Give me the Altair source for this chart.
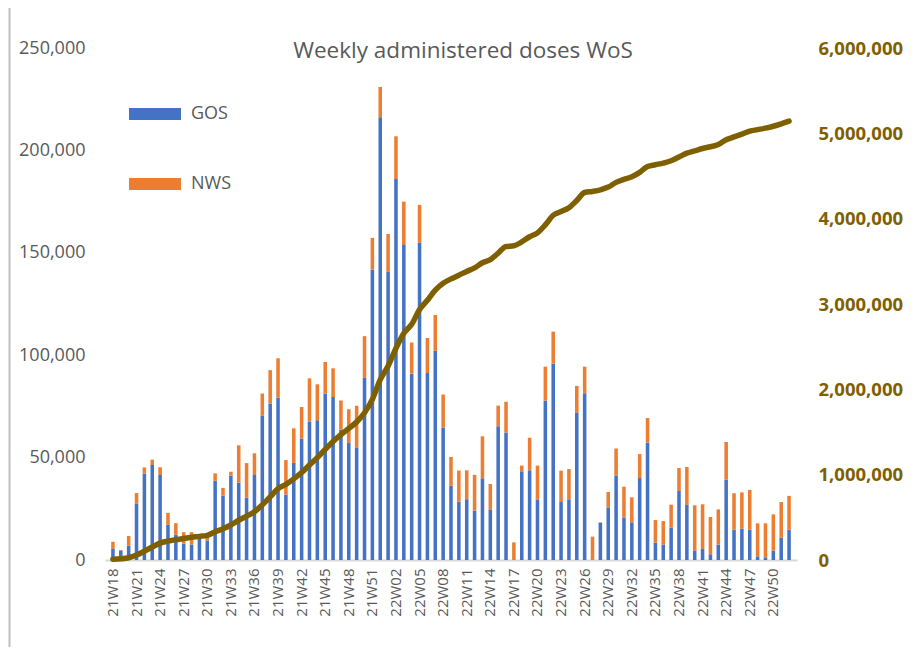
import altair as alt
import pandas as pd

FONT = "Open Sans"

weeks = [f"21W{w}" for w in range(18, 53)] + [f"22W{w:02d}" for w in range(1, 53)]

# thousands of doses
gos = [5.4, 4.7, 7.0, 27.4, 42.2, 46.4, 41.5, 17.2, 12.3, 8.0,
       7.5, 10.5, 9.6, 38.7, 31.4, 41.2, 37.8, 30.5, 41.5, 70.5,
       76.4, 79.3, 31.9, 47.4, 59.3, 67.6, 68.2, 81.2, 79.6, 63.6,
       57.1, 55.0, 88.9, 141.9, 216.2, 140.7, 186.0, 153.8, 91.0, 155.0,
       91.3, 102.1, 64.6, 36.3, 28.5, 29.7, 24.1, 39.9, 24.7, 65.3,
       62.2, 0.0, 43.3, 43.8, 29.6, 77.8, 95.9, 28.3, 29.3, 71.8,
       81.4, 0.0, 18.1, 25.7, 41.2, 20.8, 18.4, 40.0, 57.3, 8.5,
       7.5, 15.8, 33.7, 26.9, 4.7, 5.4, 2.8, 7.5, 39.2, 14.8,
       15.3, 14.8, 1.8, 1.3, 4.6, 10.9, 14.8]

nws = [3.5, 0.2, 4.7, 5.3, 3.0, 2.6, 3.8, 5.8, 5.7, 5.6,
       6.1, 1.0, 1.9, 3.6, 3.8, 1.9, 18.2, 16.8, 10.6, 10.8,
       16.3, 19.2, 16.9, 16.9, 15.4, 21.1, 17.6, 15.5, 14.0, 14.3,
       16.5, 20.3, 20.4, 15.4, 14.8, 18.5, 20.9, 21.2, 15.2, 18.4,
       17.1, 17.5, 16.2, 14.0, 15.2, 14.1, 17.5, 20.5, 12.4, 10.1,
       15.1, 8.6, 2.8, 15.9, 16.5, 16.6, 15.6, 15.3, 15.1, 13.2,
       13.0, 11.4, 0.3, 7.5, 13.3, 15.0, 12.2, 11.7, 12.0, 11.0,
       11.5, 11.2, 11.2, 18.5, 22.0, 21.8, 18.2, 17.2, 18.4, 17.8,
       17.7, 19.4, 16.1, 16.6, 17.7, 17.4, 16.5]

# cumulative doses, thousands (right axis line)
cumulative = [9, 14, 26, 58, 103, 152, 198, 221, 239, 252,
              266, 277, 289, 331, 366, 410, 466, 513, 565, 646,
              739, 837, 886, 951, 1025, 1114, 1200, 1296, 1390, 1468,
              1542, 1617, 1726, 1883, 2114, 2274, 2481, 2656, 2762, 2935,
              3044, 3163, 3244, 3294, 3338, 3382, 3423, 3484, 3521, 3596,
              3674, 3682, 3728, 3788, 3834, 3928, 4040, 4084, 4128, 4213,
              4307, 4319, 4337, 4370, 4425, 4461, 4491, 4543, 4612, 4632,
              4651, 4678, 4723, 4768, 4795, 4822, 4843, 4868, 4925, 4958,
              4991, 5025, 5043, 5061, 5083, 5111, 5143]

series_names = ["GOS", "NWS"]
series_colors = ["#4472C4", "#ED7D31"]
left_ticks = [0, 50000, 100000, 150000, 200000, 250000]
right_ticks = [0, 1000000, 2000000, 3000000, 4000000, 5000000, 6000000]
tick_weeks = weeks[::3]

rows = []
for i, w in enumerate(weeks):
    rows.append({"week": w, "series": "GOS", "value": gos[i] * 1000, "ord": 0})
    rows.append({"week": w, "series": "NWS", "value": nws[i] * 1000, "ord": 1})
bars_df = pd.DataFrame(rows)
line_df = pd.DataFrame({"week": weeks, "cum": [c * 1000 for c in cumulative]})

x_enc = alt.X(
    "week:N", sort=weeks,
    scale=alt.Scale(paddingInner=0.55, paddingOuter=0.785),
    axis=alt.Axis(title=None, values=tick_weeks, labelAngle=270, labelFontSize=15,
                  labelColor="#595959", labelFont=FONT, ticks=False,
                  domainColor="#D9D9D9", domainWidth=2, labelPadding=8),
)

bars = alt.Chart(bars_df).mark_bar().encode(
    x=x_enc,
    y=alt.Y("value:Q", stack="zero",
            scale=alt.Scale(domain=[0, 250000], nice=False),
            axis=alt.Axis(title=None, values=left_ticks, format=",.0f", grid=False,
                          ticks=False, domain=False, labelFontSize=18,
                          labelColor="#595959", labelFont=FONT, labelPadding=20)),
    color=alt.Color("series:N",
                    scale=alt.Scale(domain=series_names, range=series_colors),
                    legend=alt.Legend(title=None, orient="none", legendX=24, legendY=40,
                                      symbolType="M-1,-0.23H1V0.23H-1Z", symbolSize=2704,
                                      symbolStrokeWidth=0, rowPadding=35, labelFontSize=18,
                                      labelColor="#595959", labelFont=FONT, labelOffset=10,
                                      padding=0, symbolOpacity=1)),
    order=alt.Order("ord:Q"),
)

line = alt.Chart(line_df).mark_line(
    color="#7F6000", strokeWidth=5.5, interpolate="monotone",
    strokeCap="round", strokeJoin="round"
).encode(
    x=x_enc,
    y=alt.Y("cum:Q", scale=alt.Scale(domain=[0, 6000000], nice=False),
            axis=alt.Axis(orient="right", title=None, values=right_ticks, format=",.0f",
                          grid=False, ticks=False, domain=False, labelFontSize=18.5,
                          labelFontWeight="bold", labelColor="#7F6000",
                          labelFont=FONT, labelPadding=21)),
)

border = alt.Chart(pd.DataFrame({"a": [0]})).mark_rule(color="#BFBFBF", strokeWidth=2).encode(
    x=alt.value(-95.5), y=alt.value(-40), y2=alt.value(600)
)

chart = alt.layer(bars, line, border).resolve_scale(y="independent").properties(
    width=692, height=512,
    padding={"left": 97, "top": 40, "right": 109, "bottom": 87},
    autosize=alt.AutoSizeParams(type="none"),
    title=alt.TitleParams("Weekly administered doses WoS", fontSize=22.5, font=FONT,
                          fontWeight="normal", color="#595959", anchor="middle",
                          baseline="alphabetic", offset=-73, dx=12),
    background="white",
).configure_view(stroke=None)

chart.save("out.html", embed_options={"renderer": "svg", "actions": False})
